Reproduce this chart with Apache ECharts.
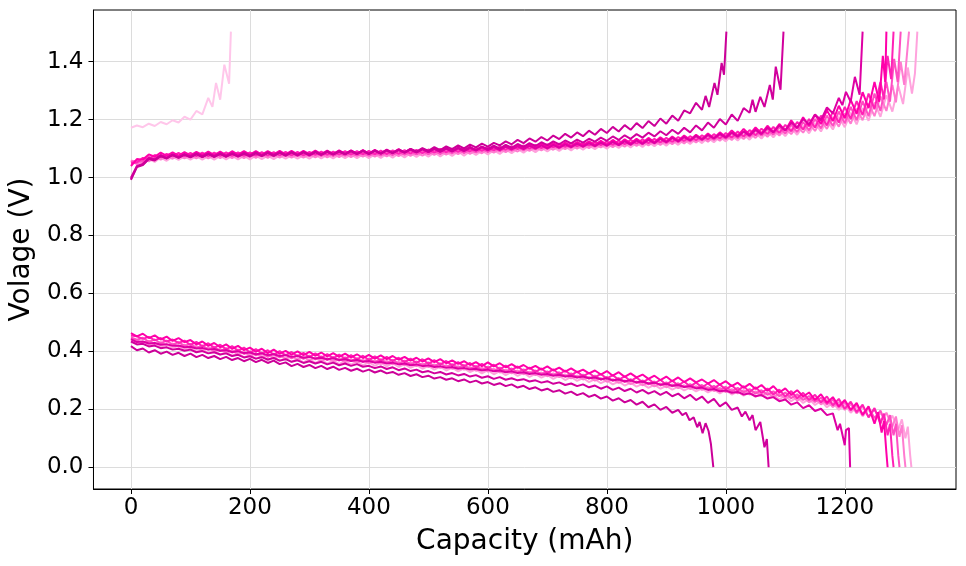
<!DOCTYPE html>
<html><head><meta charset="utf-8">
<script src="https://cdn.jsdelivr.net/npm/echarts@6/dist/echarts.min.js"></script>
<style>html,body{margin:0;padding:0;background:#fff}#chart{width:966px;height:566px}</style>
</head><body><div id="chart"></div>
<script>
// capacity grid step (mAh) for the value arrays; voltages in mV
const capStep = 10;
const xTicks = [0, 200, 400, 600, 800, 1000, 1200];
const yTicks = [0, 0.2, 0.4, 0.6, 0.8, 1.0, 1.2, 1.4];
const cycleColors = ['#cc0099', '#d1009d', '#de00a4', '#ff00aa', '#ff22b6', '#ff4ec3', '#ff7bd0', '#ffa3dd', '#ffc6ea'];

// ---------- charge curves ----------
const chg1 = [992,1036,1043,1064,1059,1074,1066,1079,1069,1080,
1070,1081,1071,1082,1072,1082,1072,1083,1073,1083,
1073,1084,1074,1085,1075,1086,1076,1087,1077,1088,
1077,1088,1078,1089,1079,1090,1080,1091,1081,1092,
1081,1093,1083,1095,1085,1097,1087,1099,1090,1102,
1092,1105,1095,1108,1098,1111,1101,1114,1104,1117,
1107,1120,1111,1125,1115,1130,1119,1135,1124,1140,
1128,1145,1133,1151,1138,1156,1143,1162,1148,1168,
1154,1175,1159,1181,1165,1188,1171,1195,1178,1204,
1186,1214,1196,1232,1222,1258,1234];
const chg1Tail = [[966,1282],[972,1244],[981,1327],[986,1286],[993,1396],[997,1355],[1001,1504]];

const chg2 = [995,1038,1045,1066,1061,1076,1066,1078,1068,1079,
1071,1082,1072,1082,1072,1083,1073,1083,1073,1084,
1075,1086,1076,1086,1076,1087,1077,1087,1077,1088,
1078,1089,1079,1090,1080,1091,1081,1092,1082,1093,
1082,1093,1083,1094,1084,1096,1086,1097,1087,1098,
1089,1100,1090,1101,1091,1103,1093,1105,1095,1107,
1098,1110,1100,1113,1103,1116,1106,1119,1109,1122,
1112,1125,1115,1128,1118,1131,1121,1134,1124,1138,
1127,1142,1130,1146,1134,1150,1138,1155,1142,1160,
1146,1165,1151,1172,1156,1180,1163,1190,1172,1202,
1183,1218,1196,1240,1224];
const chg2Tail = [[1045,1269],[1050,1227],[1058,1279],[1065,1244],[1074,1320],[1079,1269],[1084,1383],[1092,1303],[1097,1504]];

const chg3 = [1000,1040,1047,1068,1063,1078,1068,1080,1070,1081,
1073,1084,1074,1084,1074,1085,1075,1085,1075,1086,
1077,1087,1077,1088,1078,1088,1078,1089,1079,1089,
1079,1090,1080,1091,1081,1092,1082,1093,1083,1094,
1083,1094,1084,1095,1085,1096,1086,1097,1087,1098,
1088,1099,1089,1100,1090,1101,1091,1102,1093,1104,
1094,1105,1095,1107,1097,1108,1098,1110,1100,1111,
1101,1113,1103,1115,1105,1117,1107,1119,1109,1121,
1110,1123,1112,1126,1114,1128,1116,1131,1119,1134,
1122,1137,1125,1140,1128,1144,1131,1147,1135,1151,
1138,1155,1141,1159,1145,1165,1150,1172,1156,1180,
1163,1190,1172,1202,1184,1218,1198,1242,1222,1275];
const chg3Tail = [[1196,1250],[1202,1296],[1210,1262],[1217,1348],[1225,1286],[1230,1504]];

const chg4 = [1040,1064,1062,1080,1072,1086,1075,1087,1076,1088,
1077,1089,1078,1090,1078,1090,1078,1091,1079,1091,
1079,1091,1079,1091,1080,1092,1080,1092,1080,1092,
1081,1093,1081,1093,1081,1094,1082,1094,1082,1095,
1083,1096,1084,1097,1085,1098,1086,1099,1087,1100,
1088,1101,1090,1103,1091,1104,1093,1106,1094,1107,
1096,1109,1097,1111,1099,1113,1101,1115,1103,1117,
1105,1119,1107,1121,1109,1123,1111,1125,1113,1127,
1114,1130,1116,1132,1118,1134,1120,1137,1122,1139,
1124,1142,1127,1145,1130,1148,1133,1152,1136,1156,
1140,1163,1144,1168,1148,1173,1152,1179,1157,1185,
1162,1198,1170,1208,1177,1218,1185,1232,1195,1248,
1205,1268,1220,1295,1240,1330];
const chg4Tail = [[1258,1262],[1264,1420],[1268,1330],[1270,1504]];

const chg5 = [1050,1052,1068,1064,1078,1070,1082,1073,1085,1074,
1085,1074,1086,1074,1086,1075,1087,1075,1087,1075,
1087,1076,1088,1076,1088,1077,1089,1077,1089,1077,
1089,1078,1090,1078,1090,1079,1091,1079,1091,1080,
1092,1080,1093,1081,1094,1082,1095,1083,1096,1084,
1097,1086,1099,1087,1100,1089,1102,1090,1103,1092,
1105,1094,1107,1096,1109,1098,1111,1100,1113,1102,
1115,1104,1117,1106,1119,1108,1121,1110,1123,1112,
1125,1113,1128,1115,1130,1117,1132,1119,1134,1121,
1137,1123,1140,1126,1143,1129,1146,1132,1150,1135,
1154,1138,1159,1142,1164,1146,1169,1150,1175,1154,
1182,1160,1192,1166,1202,1173,1214,1180,1228,1190,
1244,1202,1264,1216,1290,1236,1330];
const chg5Tail = [[1266,1270],[1272,1420],[1278,1340],[1282,1504]];

const chg6 = [1055,1058,1054,1072,1062,1078,1066,1080,1069,1081,
1070,1082,1070,1082,1070,1083,1071,1083,1071,1083,
1071,1084,1072,1084,1072,1085,1073,1085,1073,1085,
1073,1086,1074,1086,1074,1087,1075,1087,1075,1088,
1075,1089,1076,1090,1077,1091,1078,1092,1079,1093,
1080,1095,1081,1096,1083,1098,1084,1099,1086,1101,
1088,1103,1090,1105,1092,1107,1094,1109,1096,1111,
1098,1113,1100,1115,1102,1117,1104,1119,1106,1121,
1108,1124,1110,1126,1112,1128,1114,1131,1116,1133,
1118,1136,1121,1139,1124,1142,1127,1146,1130,1149,
1133,1154,1136,1158,1140,1163,1144,1168,1148,1174,
1152,1183,1157,1192,1163,1202,1170,1214,1178,1228,
1187,1244,1198,1264,1212,1290,1230,1330];
const chg6Tail = [[1276,1262],[1283,1410],[1289,1330],[1294,1504]];

const chg7 = [1058,1046,1062,1056,1070,1062,1074,1065,1077,1066,
1077,1066,1078,1066,1078,1067,1079,1067,1079,1067,
1079,1068,1080,1068,1080,1069,1081,1069,1081,1069,
1081,1070,1082,1070,1082,1071,1083,1071,1083,1072,
1084,1072,1085,1073,1086,1074,1087,1075,1088,1076,
1089,1078,1091,1079,1092,1081,1094,1082,1095,1084,
1097,1086,1099,1088,1101,1090,1103,1092,1105,1094,
1107,1096,1109,1098,1111,1100,1113,1102,1115,1104,
1117,1105,1120,1107,1122,1109,1124,1111,1126,1113,
1129,1115,1132,1118,1135,1121,1138,1124,1142,1127,
1145,1130,1150,1133,1154,1137,1159,1141,1164,1145,
1170,1150,1178,1155,1187,1161,1197,1168,1209,1176,
1222,1186,1238,1198,1256,1212,1280,1230,1320];
const chg7Tail = [[1286,1260],[1294,1400],[1300,1320],[1308,1504]];

const chg8 = [1060,1050,1046,1064,1054,1070,1058,1072,1061,1073,
1062,1074,1062,1074,1062,1075,1063,1075,1063,1075,
1063,1076,1064,1076,1064,1077,1065,1077,1065,1077,
1065,1078,1066,1078,1066,1079,1067,1079,1067,1080,
1067,1081,1068,1082,1069,1083,1070,1084,1071,1085,
1072,1087,1073,1088,1075,1090,1076,1091,1078,1093,
1080,1095,1082,1097,1084,1099,1086,1101,1088,1103,
1090,1105,1092,1107,1094,1109,1096,1111,1098,1113,
1100,1116,1102,1118,1104,1120,1106,1123,1108,1125,
1110,1128,1113,1131,1116,1134,1119,1138,1122,1141,
1125,1145,1128,1149,1131,1154,1135,1159,1139,1164,
1143,1171,1148,1179,1153,1188,1159,1198,1166,1210,
1174,1224,1184,1240,1196,1260,1210,1284,1228,1316];
const chg8Tail = [[1298,1254],[1306,1380],[1313,1290],[1318,1360],[1322,1504]];

const chg9 = [1172,1180,1174,1186,1178,1192,1184,1198,1190,1210,1200,1230,1218,1275];
const chg9Tail = [[137,1244],[143,1327],[150,1269],[157,1390],[165,1324],[168,1504]];

// ---------- discharge curves ----------
const dis1 = [418,404,410,396,404,392,399,388,395,384,
392,380,388,377,384,373,381,370,377,366,
374,363,371,360,368,356,362,349,357,346,
353,342,350,339,347,336,343,333,340,330,
337,327,334,324,329,319,325,315,321,311,
316,306,311,302,307,297,303,293,299,289,
294,284,290,280,286,275,281,270,276,265,
271,260,266,254,261,249,256,243,250,237,
244,230,238,224,232,216,226,207,217,198,
208,188,198];
const dis1Tail = [[927,180],[933,188],[939,162],[946,172],[952,138],[956,156],[961,117],[966,152],[971,125],[975,80],[979,0]];

const dis2 = [434,424,426,417,420,411,414,406,409,402,
406,397,401,393,397,389,393,384,388,379,
383,375,380,372,377,368,373,364,369,360,
366,358,364,355,361,352,358,350,356,347,
350,342,348,339,345,335,341,332,337,328,
332,324,329,320,325,317,322,313,318,309,
314,305,311,302,307,300,304,296,300,292,
297,288,293,284,289,280,286,276,282,271,
279,267,275,263,271,258,267,254,263,250,
260,245,254,238,250,232,244,222,236,210,
224,198,206];
const dis2Tail = [[1027,175],[1033,192],[1040,162],[1045,180],[1050,128],[1058,156],[1065,69],[1069,97],[1072,0]];

const dis3 = [442,432,434,427,429,423,425,419,420,414,
416,410,412,406,408,402,404,398,400,394,
396,390,393,387,390,384,387,381,384,378,
381,375,378,373,376,370,373,367,370,364,
367,361,364,358,361,355,358,352,355,349,
352,346,349,343,346,340,343,337,340,334,
337,331,334,328,331,325,328,322,325,319,
322,316,319,313,316,310,313,307,310,304,
307,300,303,297,300,293,296,289,292,285,
288,281,284,277,280,272,275,267,270,262,
265,257,260,251,255,245,249,237,242,228,
234,216,224,204,214,194,202,180,186];
const dis3Tail = [[1188,128],[1192,150],[1200,76],[1202,128],[1207,135],[1209,0]];

const dis4 = [463,452,461,446,455,441,451,436,446,432,
439,424,434,419,429,414,424,409,419,404,
413,399,409,394,406,392,402,389,400,387,
398,385,396,383,394,381,392,379,390,377,
388,375,386,373,384,371,381,368,378,365,
376,363,373,359,369,357,366,353,363,349,
362,348,359,345,356,343,353,340,350,337,
348,334,344,330,341,328,337,324,334,320,
332,316,328,312,324,310,320,305,316,301,
313,297,310,294,307,293,303,289,301,285,
297,280,292,274,288,270,284,264,280,258,
272,250,266,244,258,232,252,222,242,210,
232,198,222,180,210,150];
const dis4Tail = [[1256,190],[1262,120],[1266,160],[1270,50],[1272,0]];

const dis5 = [455,452,443,450,438,446,434,441,429,437,
422,433,417,428,412,423,407,418,402,413,
396,408,392,404,389,401,386,398,383,395,
380,393,378,391,376,389,374,387,372,385,
370,383,368,381,366,378,363,375,360,373,
357,370,354,367,351,363,348,360,344,357,
341,354,338,351,335,348,332,344,329,341,
325,338,321,334,318,330,314,326,310,322,
306,318,302,314,297,310,293,305,289,302,
285,299,282,296,279,292,276,289,272,286,
268,283,264,280,260,276,256,272,251,268,
244,263,238,257,232,250,224,244,214,236,
202,226,190,216,172,204,150];
const dis5Tail = [[1266,185],[1272,110],[1276,150],[1280,40],[1282,0]];

const dis6 = [448,440,447,433,441,428,437,423,432,419,
426,411,421,406,416,401,411,396,406,391,
400,386,396,381,392,379,389,376,387,374,
385,372,383,370,381,368,379,366,377,364,
375,362,373,360,371,358,368,355,365,352,
362,349,359,346,356,343,353,340,350,336,
347,333,344,330,341,327,338,324,334,321,
331,317,328,313,324,310,320,306,316,302,
312,298,308,294,304,290,300,286,296,282,
293,279,290,276,287,273,284,270,281,266,
278,262,274,258,270,254,266,250,262,245,
258,238,252,232,246,225,240,217,233,207,
225,196,216,184,206,170,195,145];
const dis6Tail = [[1276,180],[1282,110],[1286,150],[1290,40],[1292,0]];

const dis7 = [442,438,430,436,425,432,420,427,416,423,
410,419,404,414,399,409,394,404,389,399,
384,394,380,390,377,387,374,384,371,381,
369,379,367,377,365,375,363,373,361,371,
359,369,357,367,355,364,352,361,349,358,
346,355,343,352,340,349,337,346,333,343,
330,340,327,337,324,334,321,330,318,327,
314,324,311,320,307,316,303,312,299,308,
295,304,291,300,287,296,283,292,279,289,
276,286,273,283,270,280,267,277,263,274,
259,270,255,266,251,262,247,258,242,254,
236,250,230,244,224,238,217,232,208,225,
198,218,186,210,174,200,160,188,140];
const dis7Tail = [[1286,175],[1292,105],[1296,145],[1300,40],[1302,0]];

const dis8 = [438,428,434,421,429,416,424,411,419,407,
413,399,408,394,403,389,398,384,393,379,
388,374,384,369,380,367,377,364,375,362,
373,360,371,358,369,356,367,354,365,352,
363,350,361,348,359,346,356,343,353,340,
350,337,347,334,344,331,341,328,338,324,
335,321,332,318,329,315,326,312,322,309,
319,305,316,301,312,298,308,294,304,290,
300,286,296,282,292,278,288,274,285,271,
281,268,278,265,275,262,272,258,269,255,
266,251,262,247,258,243,255,239,251,234,
247,228,242,222,236,215,230,207,223,198,
216,188,208,176,200,164,190,150,178,130];
const dis8Tail = [[1296,165],[1302,100],[1306,140],[1310,40],[1312,0]];

// drawing order: lightest (earliest) cycle first, darkest (latest) last
const curves = [
  [chg9, chg9Tail, 8],
  [chg8, chg8Tail, 7], [dis8, dis8Tail, 7],
  [chg7, chg7Tail, 6], [dis7, dis7Tail, 6],
  [chg6, chg6Tail, 5], [dis6, dis6Tail, 5],
  [chg5, chg5Tail, 4], [dis5, dis5Tail, 4],
  [chg4, chg4Tail, 3], [dis4, dis4Tail, 3],
  [chg3, chg3Tail, 2], [dis3, dis3Tail, 2],
  [chg2, chg2Tail, 1], [dis2, dis2Tail, 1],
  [chg1, chg1Tail, 0], [dis1, dis1Tail, 0]
];

function build(y, tail) {
  return y.map((v, i) => [i * capStep, v / 1000]).concat(tail.map(p => [p[0], p[1] / 1000]));
}

const font = 'DejaVu Sans';
const chart = echarts.init(document.getElementById('chart'), null, {renderer: 'canvas'});
chart.setOption({
  animation: false,
  grid: {left: 93, right: 10, top: 10, bottom: 77, show: true, borderColor: '#000', borderWidth: 1, backgroundColor: 'transparent'},
  xAxis: {
    type: 'value', min: -63, max: 1387,
    name: 'Capacity (mAh)', nameLocation: 'middle', nameGap: 39,
    nameTextStyle: {fontFamily: font, fontSize: 28, color: '#000'},
    axisLine: {show: true, onZero: false, lineStyle: {color: '#000', width: 1}},
    axisTick: {show: true, customValues: xTicks, length: 5, lineStyle: {color: '#000', width: 1}},
    axisLabel: {customValues: xTicks, fontFamily: font, fontSize: 23, color: '#000', margin: 8,
      formatter: v => String(v)},
    splitLine: {show: true, lineStyle: {color: '#dcdcdc', width: 1}}
  },
  yAxis: {
    type: 'value', min: -0.0752, max: 1.5786,
    name: 'Volage (V)', nameLocation: 'middle', nameGap: 53, nameRotate: 90,
    nameTextStyle: {fontFamily: font, fontSize: 28, color: '#000'},
    axisLine: {show: true, onZero: false, lineStyle: {color: '#000', width: 1}},
    axisTick: {show: true, customValues: yTicks, length: 5, lineStyle: {color: '#000', width: 1}},
    axisLabel: {customValues: yTicks, fontFamily: font, fontSize: 23, color: '#000', margin: 10,
      formatter: v => v.toFixed(1)},
    splitLine: {show: true, lineStyle: {color: '#dcdcdc', width: 1}}
  },
  series: curves.map((c, k) => ({
    type: 'line', data: build(c[0], c[1]), showSymbol: false, symbol: 'none', silent: true,
    lineStyle: {width: 2, color: cycleColors[c[2]]}, itemStyle: {color: cycleColors[c[2]]}, z: 2 + k * 0.01
  }))
});
</script></body></html>
